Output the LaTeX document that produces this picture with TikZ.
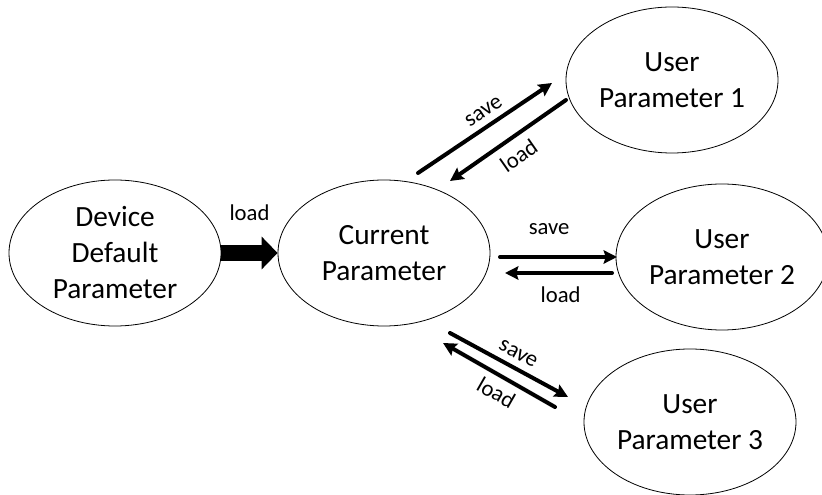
\documentclass[tikz,border=0pt]{standalone}
\usepackage{fontspec}
\setmainfont{Carlito}
\usepackage{tikz}
\usetikzlibrary{arrows.meta}
\usetikzlibrary{calc}
\usetikzlibrary{shapes.geometric}

\begin{document}
\begin{tikzpicture}[x=0.75pt, y=-0.75pt, line cap=round, line join=round,
		param/.style={ellipse, draw, line width=0.6pt, inner sep=0pt, minimum width=159pt, minimum height=109.5pt, align=center, font=\fontsize{22}{27}\selectfont},
		flow/.style={line width=3pt, -{Stealth[length=10pt, width=10pt, inset=1.5pt]}},
		back/.style={line width=3pt, {Stealth[length=10pt, width=10pt, inset=1.5pt]}-},
		lbl/.style={inner sep=0pt, font=\fontsize{17}{20}\selectfont}]
		\useasboundingbox (0,0) rectangle (822,495);
		% parameter sets
		\node[param] (dev) at (115,253) {Device\\Default\\Parameter};
		\node[param] (cur) at (384,253) {Current\\Parameter};
		\node[param] (u1) at (672,80) {User\\Parameter 1};
		\node[param] (u2) at (722,257) {User\\Parameter 2};
		\node[param] (u3) at (690,422) {User\\Parameter 3};
		% default -> current
		\draw[line cap=butt, line width=12pt, -{Triangle[length=12pt, width=24pt]}] (dev.east) -- node[lbl, above=18pt] {load} (cur.west);
		% current <-> user 1
		\draw[flow] ($(cur)+(34,-80)$) -- node[lbl, sloped, above=5pt, pos=0.55] {save} ($(u1)+(-120,3)$);
		\draw[back] ($(cur)+(66,-72)$) -- node[lbl, sloped, below=6.5pt, pos=0.5] {load} ($(u1)+(-106,20)$);
		% current <-> user 2
		\draw[flow] ($(cur)+(116,4)$) -- node[lbl, above=15pt, pos=0.42] {save} ($(u2)+(-105,0)$);
		\draw[back] ($(cur)+(121,20)$) -- node[lbl, below=8.5pt, pos=0.52] {load} ($(u2)+(-110,16)$);
		% current <-> user 3
		\draw[flow] ($(cur)+(66,80)$) -- node[lbl, sloped, above=5pt, pos=0.52] {save} ($(u3)+(-122,-25)$);
		\draw[back] ($(cur)+(59,90)$) -- node[lbl, sloped, below=5pt, pos=0.55] {load} ($(u3)+(-135,-15)$);
	\end{tikzpicture}
\end{document}
